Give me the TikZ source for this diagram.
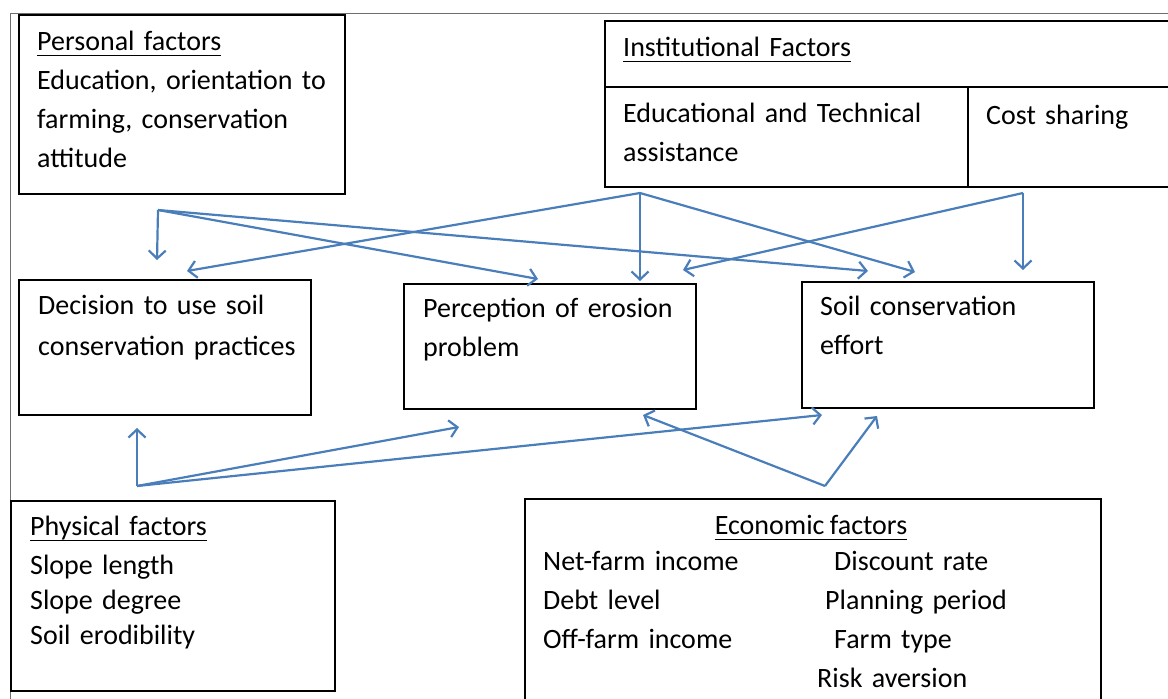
\documentclass[tikz,border=0pt]{standalone}
\usepackage{fontspec}
\setmainfont[WordSpace=0.85]{Carlito}
\usetikzlibrary{arrows.meta,positioning}
\definecolor{linkblue}{RGB}{74,126,187}
\definecolor{framegray}{RGB}{110,110,110}
\newcommand{\hd}[1]{\setbox0\hbox{#1}\rlap{\rule[-6pt]{\wd0}{1.4pt}}\box0}
\tikzset{
  box/.style={draw=black,line width=1.5pt,anchor=north west,inner sep=0pt},
  txt/.style={anchor=base west,inner sep=0pt,text width=330pt,align=left,
    font=\fontsize{28}{39}\selectfont},
  link/.style={draw=linkblue,line width=2.2pt,-{Straight Barb[length=8pt,width=17pt]}}
}
\begin{document}
\begin{tikzpicture}[x=1pt,y=-1pt]
\useasboundingbox (0,0) rectangle (1168,699);
% Frame
\draw[framegray,line width=0.8pt] (10,699) -- (10,13) -- (1168,13);

% Boxes
\node[box,minimum width=326pt,minimum height=179pt] (personal) at (18,14) {};
\node[box,minimum width=580pt,minimum height=66pt] (insthead) at (604,20) {};
\node[box,minimum width=363pt,minimum height=100pt] (edu) at (604,86) {};
\node[box,minimum width=217pt,minimum height=100pt] (cost) at (967,86) {};
\node[box,minimum width=292pt,minimum height=135pt] (decision) at (18,279) {};
\node[box,minimum width=292pt,minimum height=125pt] (perception) at (403,283) {};
\node[box,minimum width=292pt,minimum height=126pt] (effort) at (801,281) {};
\node[box,minimum width=324pt,minimum height=190pt] (physical) at (10,500) {};
\node[box,minimum width=576pt,minimum height=215pt] (economic) at (524,498) {};

% Texts
\node[txt] (personaltxt) at (37,50) {\hd{Personal factors}\\Education, orientation to\\farming, conservation\\attitude};
\node[txt] (insttxt) at (623,56) {\hd{Institutional Factors}};
\node[txt] (edutxt) at (623,122) {Educational and Technical\\assistance};
\node[txt,text width=190pt] (costtxt) at (986,124) {Cost sharing};
\node[txt,font=\fontsize{28}{41}\selectfont] (decisiontxt) at (38,314) {Decision to use soil\\conservation practices};
\node[txt] (perceptiontxt) at (423,317) {Perception of erosion\\problem};
\node[txt] (efforttxt) at (820,315) {Soil conservation\\effort};
\node[txt,font=\fontsize{28}{35}\selectfont] (physicaltxt) at (30,535) {\hd{Physical factors}\\[4pt]Slope length\\Slope degree\\Soil erodibility};
\node[anchor=base,inner sep=0pt,font=\fontsize{28}{39}\selectfont] (ecotitle) at (811,534) {\hd{Economic factors}};
\node[txt,text width=260pt] (ecoleft) at (543,570) {Net-farm income\\Debt level\\Off-farm income};
\node[txt,text width=260pt] (ecoright) at (817,570) {\hspace*{17pt}Discount rate\\\hspace*{8pt}Planning period\\\hspace*{17pt}Farm type\\Risk aversion};

% Hubs and arrow ends
\coordinate (perhub) at (158,210);
\coordinate (eduhub) at (640,193);
\coordinate (costhub) at (1023,193);
\coordinate (phyhub) at (137,486);
\coordinate (ecohub) at (825,486);
\coordinate (per-dec) at (157,260);
\coordinate (per-perc) at (538,279);
\coordinate (per-eff) at (868,271);
\coordinate (edu-dec) at (187,271);
\coordinate (edu-perc) at (640,281);
\coordinate (edu-eff) at (915,272);
\coordinate (cost-perc) at (683,270);
\coordinate (cost-eff) at (1023,270);
\coordinate (phy-dec) at (137,428);
\coordinate (phy-perc) at (459,427);
\coordinate (phy-eff) at (822,415);
\coordinate (eco-perc) at (643,415);
\coordinate (eco-eff) at (877,416);

% Arrows
\draw[link] (perhub) -- (per-dec);
\draw[link] (perhub) -- (per-perc);
\draw[link] (perhub) -- (per-eff);
\draw[link] (eduhub) -- (edu-dec);
\draw[link] (eduhub) -- (edu-perc);
\draw[link] (eduhub) -- (edu-eff);
\draw[link] (costhub) -- (cost-perc);
\draw[link] (costhub) -- (cost-eff);
\draw[link] (phyhub) -- (phy-dec);
\draw[link] (phyhub) -- (phy-perc);
\draw[link] (phyhub) -- (phy-eff);
\draw[link] (ecohub) -- (eco-perc);
\draw[link] (ecohub) -- (eco-eff);
\end{tikzpicture}
\end{document}
